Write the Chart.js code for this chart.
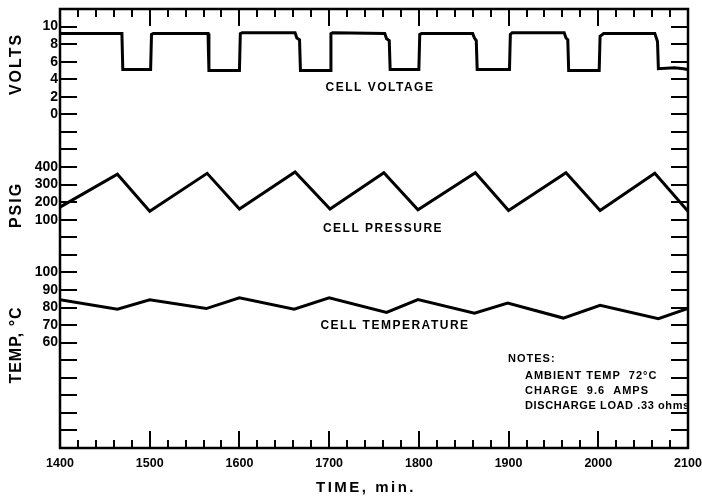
<!DOCTYPE html>
<html>
<head>
<meta charset="utf-8">
<script src="https://cdn.jsdelivr.net/npm/chart.js@4.4.1/dist/chart.umd.min.js"></script>
<style>
  html, body { margin: 0; padding: 0; background: #fff; }
  #chart { display: block; }
</style>
</head>
<body>
<canvas id="chart" width="702" height="498"></canvas>
<script>
// eixo de tempo (min)
const timeMin = 1400;
const timeMax = 2100;
const timeTicks = [1400, 1500, 1600, 1700, 1800, 1900, 2000, 2100];
const minorStep = 20;

// tensao da celula (volts)
const voltTime  = [1400, 1469, 1470, 1501, 1502, 1504, 1565, 1566, 1600, 1601, 1603, 1662, 1664, 1667, 1668, 1701, 1702, 1704, 1762, 1764, 1767, 1768, 1800, 1801, 1803, 1860, 1862, 1864, 1865, 1901, 1902, 1904, 1962, 1964, 1966, 1967, 2001, 2002, 2006, 2063, 2065, 2066, 2067, 2085, 2095, 2100];
const voltValue = [9.2, 9.2, 5.1, 5.1, 9.1, 9.2, 9.2, 5.0, 5.0, 9.2, 9.3, 9.3, 8.7, 8.5, 5.0, 5.0, 9.2, 9.3, 9.2, 8.6, 8.4, 5.1, 5.1, 9.1, 9.2, 9.2, 8.7, 8.4, 5.1, 5.1, 9.1, 9.3, 9.3, 8.7, 8.5, 5.0, 5.0, 8.9, 9.2, 9.2, 8.6, 8.3, 5.2, 5.3, 5.2, 5.1];

// pressao da celula (psig)
const pressTime  = [1400, 1464, 1500, 1564, 1600, 1662, 1701, 1761, 1799, 1863, 1900, 1964, 2002, 2063, 2100];
const pressValue = [172, 359, 148, 364, 161, 372, 161, 368, 157, 368, 152, 368, 152, 364, 148];

// temperatura da celula (C)
const tempTime  = [1400, 1464, 1500, 1563, 1600, 1661, 1700, 1764, 1799, 1862, 1899, 1961, 2002, 2067, 2100];
const tempValue = [84.5, 79, 84.4, 79.4, 85.5, 79.1, 85.5, 77.2, 84.5, 76.8, 82.6, 74, 81.3, 73.6, 79.5];

// rotulos do eixo esquerdo
const voltTicks  = [0, 2, 4, 6, 8, 10];
const psigTicks  = [100, 200, 300, 400];
const tempTicks  = [60, 70, 80, 90, 100];

// grade comum: 25 divisoes, cada escala ocupa uma faixa dela
const gridMax = 25;
const voltAt0 = 19, voltPerDiv = 2;   // 0 V na divisao 19
const psigAt0 = 12, psigPerDiv = 100; // 0 psig na divisao 12
const tempAt0 = 0,  tempPerDiv = 10;  // 0 C na divisao 0

const labelAt = {};
voltTicks.forEach(v => { labelAt[voltAt0 + v / voltPerDiv] = String(v); });
psigTicks.forEach(p => { labelAt[psigAt0 + p / psigPerDiv] = String(p); });
tempTicks.forEach(t => { labelAt[tempAt0 + t / tempPerDiv] = String(t); });

function toPoints(xs, ys) {
    return xs.map((t, i) => ({ x: t, y: ys[i] }));
}

const FONT = '"Liberation Sans", Arial, sans-serif';

function spacedText(ctx, text, x, y, size, spacing, align) {
    ctx.font = 'bold ' + size + 'px ' + FONT;
    ctx.letterSpacing = spacing + 'px';
    ctx.textAlign = align || 'center';
    ctx.textBaseline = 'middle';
    ctx.fillText(text, x, y);
}

// moldura, marcas internas e textos
const decoPlugin = {
    id: 'deco',
    afterDraw(chart) {
        const ctx = chart.ctx;
        const a = chart.chartArea;
        const x = chart.scales.x;
        const g = chart.scales.yGrid;
        ctx.save();
        ctx.strokeStyle = '#000';
        ctx.fillStyle = '#000';
        ctx.lineWidth = 2.5;
        ctx.strokeRect(a.left, a.top, a.right - a.left, a.bottom - a.top);

        ctx.lineWidth = 2;
        ctx.beginPath();
        for (let u = 1; u < gridMax; u++) {
            const py = Math.round(g.getPixelForValue(u));
            ctx.moveTo(a.left, py); ctx.lineTo(a.left + 17, py);
            ctx.moveTo(a.right, py); ctx.lineTo(a.right - 17, py);
        }
        for (let t = timeMin + minorStep; t < timeMax; t += minorStep) {
            const px = Math.round(x.getPixelForValue(t));
            const len = t % 100 === 0 ? 17 : 8;
            ctx.moveTo(px, a.top); ctx.lineTo(px, a.top + len);
            ctx.moveTo(px, a.bottom); ctx.lineTo(px, a.bottom - len);
        }
        ctx.stroke();

        // titulos do eixo y (girados)
        const yTitles = [['VOLTS', 64, 2], ['PSIG', 205, 2], ['TEMP, \u00B0C', 345, 1]];
        yTitles.forEach(([txt, cy, sp]) => {
            ctx.save();
            ctx.translate(17, cy);
            ctx.rotate(-Math.PI / 2);
            spacedText(ctx, txt, 0, 0, 16, sp);
            ctx.restore();
        });

        // titulo do eixo x
        spacedText(ctx, 'TIME, min.', 366, 488, 15, 2.5);

        // nomes das curvas
        spacedText(ctx, 'CELL VOLTAGE', 380, 87.5, 12, 1.5);
        spacedText(ctx, 'CELL PRESSURE', 383, 228.5, 12, 1.5);
        spacedText(ctx, 'CELL TEMPERATURE', 395, 326, 12, 1.5);

        // notas
        spacedText(ctx, 'NOTES:', 508, 359, 11, 1, 'left');
        spacedText(ctx, 'AMBIENT TEMP  72\u00B0C', 525, 376, 11, 1, 'left');
        spacedText(ctx, 'CHARGE  9.6  AMPS', 525, 391, 11, 1, 'left');
        spacedText(ctx, 'DISCHARGE LOAD .33 ohms', 525, 406, 11, 0.6, 'left');
        ctx.restore();
    }
};

const lineStyle = {
    borderColor: '#000',
    borderWidth: 3,
    pointRadius: 0,
    tension: 0,
    fill: false,
};

const ctx = document.getElementById('chart').getContext('2d');

new Chart(ctx, {
    type: 'line',
    data: {
        datasets: [
            Object.assign({ label: 'Cell voltage', data: toPoints(voltTime, voltValue), yAxisID: 'yVolt', borderJoinStyle: 'miter' }, lineStyle),
            Object.assign({ label: 'Cell pressure', data: toPoints(pressTime, pressValue), yAxisID: 'yPsig' }, lineStyle),
            Object.assign({ label: 'Cell temperature', data: toPoints(tempTime, tempValue), yAxisID: 'yTemp' }, lineStyle),
        ],
    },
    options: {
        responsive: false,
        animation: false,
        layout: { padding: { top: 9, right: 14, bottom: 0, left: 0 } },
        plugins: {
            legend: { display: false },
            tooltip: { enabled: false },
        },
        scales: {
            x: {
                type: 'linear',
                min: timeMin,
                max: timeMax,
                grid: { display: false, drawTicks: false },
                border: { display: false },
                afterBuildTicks: (scale) => { scale.ticks = timeTicks.map(v => ({ value: v })); },
                ticks: {
                    color: '#000',
                    padding: 8,
                    maxRotation: 0,
                    autoSkip: false,
                    font: { family: FONT, size: 12.5, weight: 'bold' },
                    callback: (v) => String(v),
                },
                afterFit: (scale) => {
                    scale.height = 50;
                    scale.paddingRight = 0;
                    scale.paddingLeft = 0;
                },
            },
            yGrid: {
                type: 'linear',
                position: 'left',
                min: 0,
                max: gridMax,
                grid: { display: false, drawTicks: false },
                border: { display: false },
                ticks: {
                    stepSize: 1,
                    autoSkip: false,
                    color: '#000',
                    padding: 2,
                    font: { family: FONT, size: 14, weight: 'bold' },
                    callback: (v) => labelAt[v] || '',
                },
                afterFit: (scale) => {
                    scale.width = 60;
                    scale.paddingTop = 0;
                    scale.paddingBottom = 0;
                },
            },
            yVolt: {
                display: false,
                min: -voltAt0 * voltPerDiv,
                max: (gridMax - voltAt0) * voltPerDiv,
            },
            yPsig: {
                display: false,
                min: -psigAt0 * psigPerDiv,
                max: (gridMax - psigAt0) * psigPerDiv,
            },
            yTemp: {
                display: false,
                min: -tempAt0 * tempPerDiv,
                max: (gridMax - tempAt0) * tempPerDiv,
            },
        },
    },
    plugins: [decoPlugin],
});
</script>
</body>
</html>
